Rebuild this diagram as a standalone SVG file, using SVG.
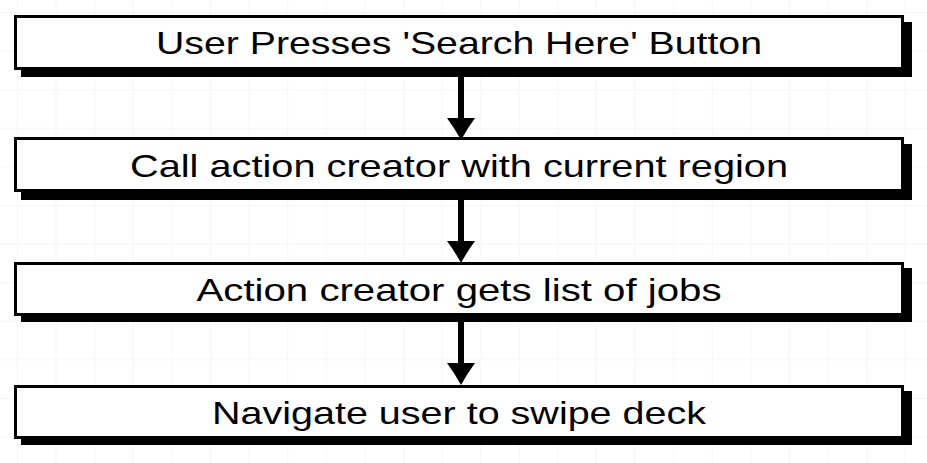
<svg xmlns="http://www.w3.org/2000/svg" width="927" height="463" viewBox="0 0 927 463">
<defs>
<pattern id="grid" x="17" y="12" width="38.6" height="38.6" patternUnits="userSpaceOnUse">
<path d="M0,0 V38.6 M0,0 H38.6" fill="none" stroke="#eeeeee" stroke-width="1"/>
</pattern>
<marker id="head" markerUnits="userSpaceOnUse" viewBox="0 -14 22 28" markerWidth="22" markerHeight="28" refX="7" refY="0" orient="auto">
<path d="M0,-14 Q11,-6 22,0 Q11,6 0,14 Z" fill="#000"/>
</marker>
<style>
.shadow{fill:#000}
.box{fill:#fff;stroke:#000;stroke-width:3}
.lbl{font-family:"Liberation Sans","Noto Sans",sans-serif;font-size:32px;fill:#000;text-anchor:middle}
.conn{stroke:#000;stroke-width:6;fill:none}
</style>
</defs>
<rect width="927" height="463" fill="#fff"/>
<rect width="927" height="463" fill="url(#grid)"/>
<g id="connectors">
<line class="conn" x1="461" y1="76" x2="461" y2="125" marker-end="url(#head)"/>
<line class="conn" x1="461" y1="199" x2="461" y2="248" marker-end="url(#head)"/>
<line class="conn" x1="461" y1="321" x2="461" y2="370" marker-end="url(#head)"/>
</g>
<g id="node1">
<rect class="shadow" x="21" y="22" width="891" height="55"/>
<rect class="box" x="15.5" y="16.5" width="887" height="52"/>
<text class="lbl" x="459" y="54" textLength="606" lengthAdjust="spacingAndGlyphs">User Presses 'Search Here' Button</text>
</g>
<g id="node2">
<rect class="shadow" x="21" y="144" width="891" height="56"/>
<rect class="box" x="15.5" y="138.5" width="887" height="52"/>
<text class="lbl" x="459" y="177" textLength="658" lengthAdjust="spacingAndGlyphs">Call action creator with current region</text>
</g>
<g id="node3">
<rect class="shadow" x="21" y="268" width="891" height="54"/>
<rect class="box" x="15.5" y="263.5" width="887" height="51"/>
<text class="lbl" x="459" y="301" textLength="525" lengthAdjust="spacingAndGlyphs">Action creator gets list of jobs</text>
</g>
<g id="node4">
<rect class="shadow" x="21" y="391" width="891" height="54"/>
<rect class="box" x="15.5" y="386.5" width="887" height="51"/>
<text class="lbl" x="459" y="424" textLength="494" lengthAdjust="spacingAndGlyphs">Navigate user to swipe deck</text>
</g>
</svg>
